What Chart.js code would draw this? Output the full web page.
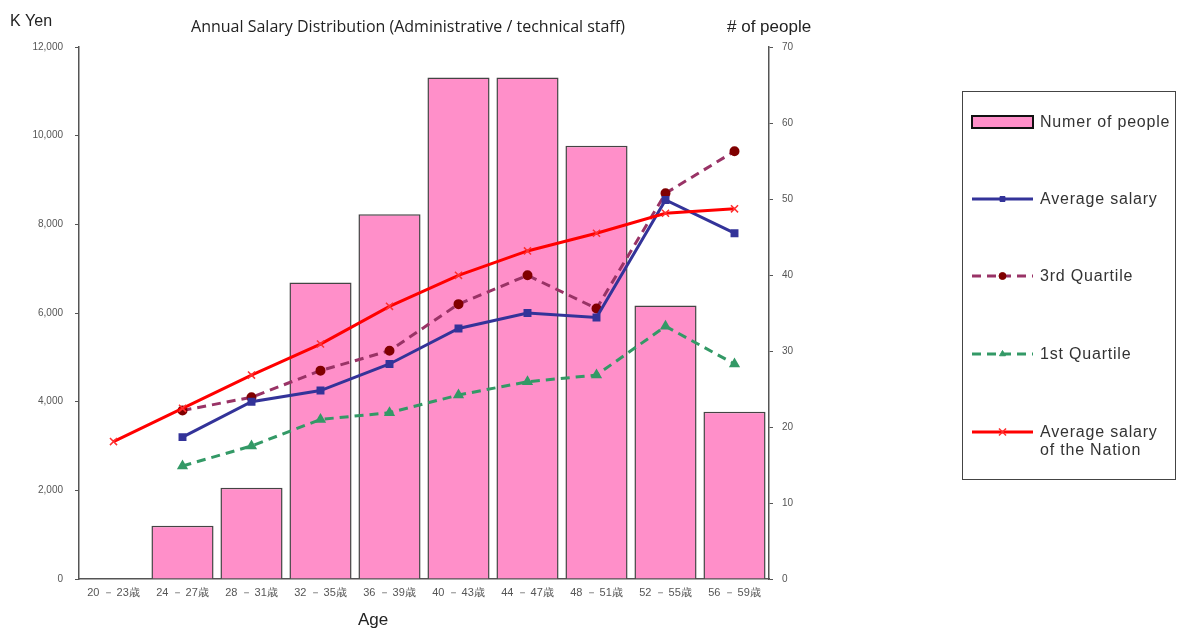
<!DOCTYPE html>
<html>
<head>
<meta charset="utf-8">
<script src="https://cdn.jsdelivr.net/npm/chart.js@4/dist/chart.umd.min.js"></script>
<style>
  html, body { margin: 0; padding: 0; background: #fff; }
  #wrap { width: 1177px; height: 630px; position: relative; }
</style>
</head>
<body>
<div id="wrap"><canvas id="c" width="1177" height="630"></canvas></div>
<script>
// Age brackets
const ageGroups = ['20 － 23歳', '24 － 27歳', '28 － 31歳', '32 － 35歳', '36 － 39歳',
                   '40 － 43歳', '44 － 47歳', '48 － 51歳', '52 － 55歳', '56 － 59歳'];
// Head count per bracket (right axis)
const headcount = [0, 7, 12, 39, 48, 66, 66, 57, 36, 22];
// Salaries in thousands of yen (left axis)
const avgSalary      = [null, 3200, 4000, 4250, 4850, 5650, 6000, 5900, 8550, 7800];
const thirdQuartile  = [null, 3800, 4100, 4700, 5150, 6200, 6850, 6100, 8700, 9650];
const firstQuartile  = [null, 2550, 3000, 3600, 3750, 4150, 4450, 4600, 5700, 4850];
const nationalAvg    = [3100, 3850, 4600, 5300, 6150, 6850, 7400, 7800, 8250, 8350];
// Axis ranges
const salaryTicks = { max: 12000, step: 2000 };
const peopleTicks = { max: 70, step: 10 };

const FONT = '"Liberation Sans", Arial, sans-serif';
const UI_FONT = '"Open Sans", "Noto Sans", sans-serif';

// Captions around the plot and the boxed legend on the right
const decorations = {
  id: 'decorations',
  afterDraw(chart) {
    const ctx = chart.ctx;
    ctx.save();
    ctx.fillStyle = '#222';
    ctx.textBaseline = 'middle';
    ctx.font = '16px ' + UI_FONT;
    ctx.textAlign = 'center';
    ctx.fillText('Annual Salary Distribution (Administrative / technical staff)', 408, 27);
    ctx.textAlign = 'left';
    ctx.font = '16px ' + FONT;
    ctx.fillText('K Yen', 10, 22);
    ctx.font = '17px ' + FONT;
    ctx.fillText('# of people', 727, 27);
    ctx.textAlign = 'center';
    ctx.fillText('Age', 373, 620);

    // legend box
    const bx = 962.5, by = 91.5, bw = 213, bh = 388;
    ctx.strokeStyle = '#444';
    ctx.lineWidth = 1;
    ctx.strokeRect(bx, by, bw, bh);

    const ds = chart.data.datasets;
    const rows = [
      { i: 0, y: 122, text: ['Numer of people'] },
      { i: 1, y: 199, text: ['Average salary'] },
      { i: 2, y: 276, text: ['3rd Quartile'] },
      { i: 3, y: 354, text: ['1st Quartile'] },
      { i: 4, y: 432, text: ['Average salary', 'of the Nation'] }
    ];
    const x0 = 972, x1 = 1033, xm = (x0 + x1) / 2;
    rows.forEach(r => {
      const d = ds[r.i];
      if (d.type === 'bar') {
        ctx.fillStyle = d.backgroundColor;
        ctx.fillRect(x0, r.y - 6, x1 - x0, 12);
        ctx.strokeStyle = '#111';
        ctx.lineWidth = 2;
        ctx.strokeRect(x0, r.y - 6, x1 - x0, 12);
      } else {
        ctx.strokeStyle = d.borderColor;
        ctx.lineWidth = d.borderWidth;
        ctx.setLineDash(d.borderDash || []);
        ctx.beginPath();
        ctx.moveTo(x0, r.y);
        ctx.lineTo(x1, r.y);
        ctx.stroke();
        ctx.setLineDash([]);
        ctx.fillStyle = d.pointBackgroundColor;
        ctx.strokeStyle = d.pointBorderColor;
        ctx.lineWidth = d.pointBorderWidth || 1;
        Chart.helpers.drawPoint(ctx, {
          pointStyle: d.pointStyle,
          radius: d.pointRadius,
          borderWidth: d.pointBorderWidth || 1,
          rotation: 0
        }, xm, r.y);
      }
      ctx.fillStyle = '#333';
      ctx.font = '16px ' + FONT;
      ctx.letterSpacing = '0.8px';
      ctx.textAlign = 'left';
      r.text.forEach((t, k) => ctx.fillText(t, 1040, r.y + 1 + k * 18));
      ctx.letterSpacing = '0px';
    });
    ctx.restore();
  }
};

new Chart(document.getElementById('c'), {
  data: {
    labels: ageGroups,
    datasets: [
      {
        type: 'bar',
        label: 'Numer of people',
        data: headcount,
        yAxisID: 'y1',
        backgroundColor: '#ff8fc9',
        borderColor: '#444',
        borderWidth: 1.5,
        barPercentage: 0.9,
        categoryPercentage: 1.0,
        order: 2
      },
      {
        type: 'line',
        label: 'Average salary',
        data: avgSalary,
        yAxisID: 'y',
        borderColor: '#333399',
        borderWidth: 3,
        pointStyle: 'rect',
        pointRadius: 3.5,
        pointBackgroundColor: '#333399',
        pointBorderColor: '#333399',
        tension: 0,
        order: 1
      },
      {
        type: 'line',
        label: '3rd Quartile',
        data: thirdQuartile,
        yAxisID: 'y',
        borderColor: '#993366',
        borderWidth: 3,
        borderDash: [9, 6],
        pointStyle: 'circle',
        pointRadius: 3.5,
        pointBackgroundColor: '#800000',
        pointBorderColor: '#800000',
        tension: 0,
        order: 1
      },
      {
        type: 'line',
        label: '1st Quartile',
        data: firstQuartile,
        yAxisID: 'y',
        borderColor: '#339966',
        borderWidth: 3,
        borderDash: [9, 6],
        pointStyle: 'triangle',
        pointRadius: 3.5,
        pointBackgroundColor: '#339966',
        pointBorderColor: '#339966',
        tension: 0,
        order: 1
      },
      {
        type: 'line',
        label: 'Average salary of the Nation',
        data: nationalAvg,
        yAxisID: 'y',
        borderColor: '#ff0000',
        borderWidth: 3,
        pointStyle: 'crossRot',
        pointRadius: 5,
        pointBorderWidth: 1.5,
        pointBackgroundColor: '#ff0000',
        pointBorderColor: '#ff3030',
        tension: 0,
        order: 0
      }
    ]
  },
  options: {
    responsive: false,
    animation: false,
    layout: { padding: { left: 0, top: 47, right: 368, bottom: 0 } },
    plugins: {
      legend: { display: false },
      tooltip: { enabled: false }
    },
    scales: {
      x: {
        grid: { display: false, drawTicks: false },
        border: { color: '#555', width: 1.5 },
        ticks: {
          color: '#555',
          font: { family: FONT, size: 11 },
          padding: 7,
          maxRotation: 0,
          autoSkip: false
        },
        afterFit(s) { s.height = 51; }
      },
      y: {
        position: 'left',
        min: 0,
        max: salaryTicks.max,
        grid: { drawOnChartArea: false, tickLength: 4, color: '#555' },
        border: { color: '#555', width: 1.5 },
        ticks: {
          stepSize: salaryTicks.step,
          color: '#555',
          font: { family: FONT, size: 10 },
          padding: 12
        },
        afterFit(s) { s.width = 79; }
      },
      y1: {
        position: 'right',
        min: 0,
        max: peopleTicks.max,
        grid: { drawOnChartArea: false, tickLength: 4, color: '#555' },
        border: { color: '#555', width: 1.5 },
        ticks: {
          stepSize: peopleTicks.step,
          color: '#555',
          font: { family: FONT, size: 10 },
          padding: 9
        },
        afterFit(s) { s.width = 40; }
      }
    }
  },
  plugins: [decorations]
});
</script>
</body>
</html>
